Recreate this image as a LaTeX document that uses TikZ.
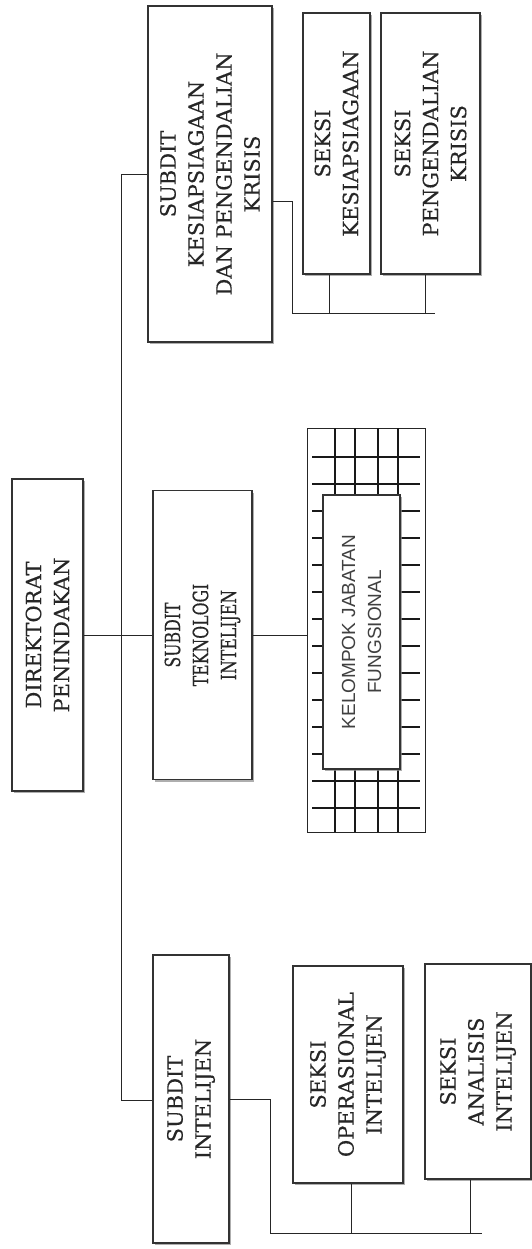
\documentclass[tikz,border=0pt]{standalone}
\usepackage{fontspec}
\setmainfont{DejaVu Serif}[BoldFont=DejaVu Serif, BoldFeatures={FakeBold=0.35}]
\newfontfamily\kjffont{Liberation Sans}
\usepackage{graphicx}
\usetikzlibrary{shadows, calc}

\begin{document}
\begin{tikzpicture}[
    x=1pt, y=-1pt,
    unit/.style={rectangle, draw=black!80, line width=1.1pt, fill=white, rotate=90, align=center, inner sep=2pt, font=\fontsize{21}{28}\selectfont\bfseries, text=black!85,
        drop shadow={shadow xshift=2pt, shadow yshift=-2pt, fill=black!45, opacity=.7}},
    link/.style={draw=black!85, line width=1pt},
    gridline/.style={draw=black!90, line width=1.2pt}
]
    \useasboundingbox (0,0) rectangle (532,1249);

    % Direktorat
    \node[unit, minimum width=312, minimum height=71] (dir) at (47.5,635) {DIREKTORAT\\PENINDAKAN};

    % Trunk
    \coordinate (ttop) at (121,175);
    \coordinate (tbot) at (121,1100);
    \draw[link] (ttop) -- (tbot);
    \draw[link] (dir.south) -- (dir.south -| ttop);

    % Subdit Kesiapsiagaan dan Pengendalian Krisis
    \node[unit, minimum width=336, minimum height=124] (kes) at (210,174) {SUBDIT\\KESIAPSIAGAAN\\DAN PENGENDALIAN\\KRISIS};
    \node[unit, minimum width=261, minimum height=67] (skes) at (336.5,143.5) {SEKSI\\KESIAPSIAGAAN};
    \node[unit, minimum width=261, minimum height=99] (spk) at (430.5,143.5) {SEKSI\\PENGENDALIAN\\KRISIS};

    \draw[link] (ttop) -- (ttop -| kes.north);
    \coordinate (kesbus) at (292,313);
    \coordinate (kesend) at (435,313);
    \draw[link] ([yshift=-28pt]kes.south) -| (kesbus) -- (kesend);
    \draw[link] ([xshift=-7.5pt]skes.west) -- ([xshift=-7.5pt]skes.west |- kesbus);
    \draw[link] ([xshift=-5.5pt]spk.west) -- ([xshift=-5.5pt]spk.west |- kesbus);

    % Subdit Teknologi Intelijen
    \node[unit, minimum width=289, minimum height=99] (tek) at (202.5,635) {\scalebox{.75}[1]{\begin{tabular}{@{}c@{}}SUBDIT\\TEKNOLOGI\\INTELIJEN\end{tabular}}};
    \draw[link] (dir.south -| ttop) -- (tek.north);

    % Kelompok Jabatan Fungsional
    \node[draw=black!85, line width=1pt, minimum width=118, minimum height=404] (kjfgrid) at (366,630) {};
    \foreach \k in {0,...,13}
        \draw[gridline] (312,{457+27*\k}) -- (420,{457+27*\k});
    \foreach \x in {335,355,378,398}
        \draw[gridline] (\x,428) -- (\x,832);
    \node[unit, font=\kjffont\fontsize{19}{26}\selectfont, text=black!75, minimum width=274, minimum height=77] (kjf) at (361.5,632) {KELOMPOK JABATAN\\FUNGSIONAL};
    \draw[link] (tek.south) -- (tek.south -| kjfgrid.west);

    % Subdit Intelijen
    \node[unit, minimum width=288, minimum height=76] (int) at (191,1099) {SUBDIT\\INTELIJEN};
    \node[unit, minimum width=217, minimum height=110] (sop) at (348,1074.5) {SEKSI\\OPERASIONAL\\INTELIJEN};
    \node[unit, minimum width=215, minimum height=106] (san) at (478,1071.5) {SEKSI\\ANALISIS\\INTELIJEN};

    \draw[link] (tbot) -- (tbot -| int.north);
    \coordinate (intbus) at (270,1233);
    \coordinate (intend) at (482,1233);
    \draw[link] (int.south) -| (intbus) -- (intend);
    \draw[link] ([xshift=3pt]sop.west) -- ([xshift=3pt]sop.west |- intbus);
    \draw[link] ([xshift=-8pt]san.west) -- ([xshift=-8pt]san.west |- intbus);
\end{tikzpicture}
\end{document}
